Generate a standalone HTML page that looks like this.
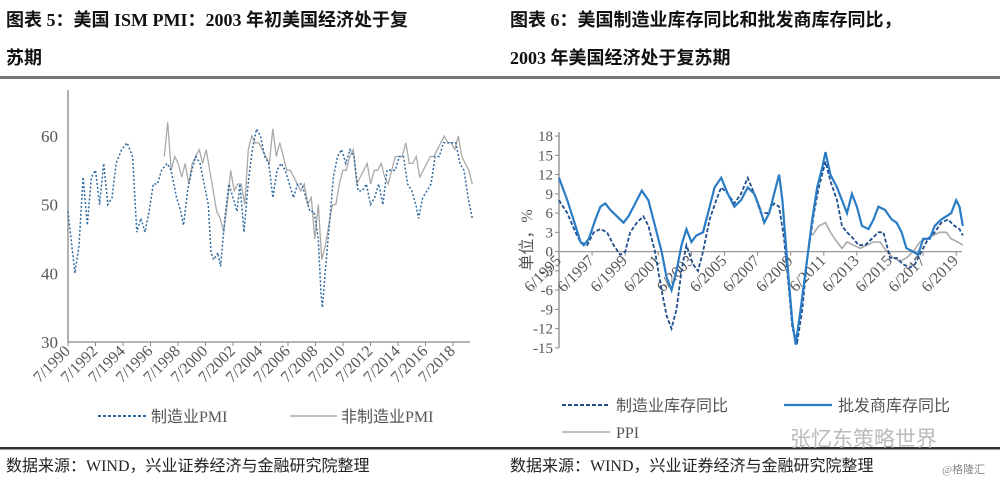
<!DOCTYPE html>
<html><head><meta charset="utf-8"><style>
body{margin:0;background:#fff;width:1000px;height:487px;overflow:hidden;font-family:"Liberation Serif","Noto Serif CJK SC","Noto Sans CJK SC",serif;}
svg text{font-family:"Liberation Serif","Noto Sans CJK SC",serif;}
.t{font-family:"Liberation Serif","Noto Sans CJK SC",sans-serif;font-weight:bold;font-size:18px;fill:#111;}
</style></head><body>
<svg id="s" width="1000" height="487" xmlns="http://www.w3.org/2000/svg">
<text class="t" x="6" y="26">图表 5：美国 ISM PMI：2003 年初美国经济处于复</text>
<text class="t" x="6" y="64">苏期</text>
<text class="t" x="510" y="26">图表 6：美国制造业库存同比和批发商库存同比，</text>
<text class="t" x="510" y="64">2003 年美国经济处于复苏期</text>
<rect x="0" y="76" width="1000" height="3" fill="#777"/>
<rect x="0" y="447" width="1000" height="2.5" fill="#333"/>
<text x="6" y="471" font-size="16" fill="#222">数据来源：WIND，兴业证券经济与金融研究院整理</text>
<text x="510" y="471" font-size="16" fill="#222">数据来源：WIND，兴业证券经济与金融研究院整理</text>
<text x="790" y="446" font-size="21" fill="#bbb">张忆东策略世界</text>
<text x="942" y="473" font-size="11" fill="#888">@格隆汇</text>
<g id="L"></g>
<g id="R"></g>
</svg>
<script>
// Left chart data
const mfgYears=[1990.5,1991.0,1991.3,1991.6,1991.9,1992.2,1992.5,1992.8,1993.1,1993.4,1993.7,1994.0,1994.4,1994.8,1995.2,1995.5,1995.8,1996.1,1996.4,1996.7,1997.0,1997.3,1997.7,1998.0,1998.4,1998.7,1998.9,1999.2,1999.5,1999.8,2000.1,2000.4,2000.7,2000.9,2001.1,2001.4,2001.6,2001.9,2002.2,2002.5,2002.8,2003.0,2003.3,2003.6,2003.9,2004.2,2004.5,2004.8,2005.1,2005.4,2005.7,2006.0,2006.3,2006.6,2006.9,2007.2,2007.5,2007.8,2008.1,2008.4,2008.7,2008.9,2009.0,2009.2,2009.5,2009.8,2010.1,2010.4,2010.7,2011.0,2011.3,2011.6,2011.9,2012.2,2012.5,2012.8,2013.1,2013.4,2013.7,2014.0,2014.3,2014.6,2014.9,2015.2,2015.5,2015.8,2016.0,2016.3,2016.6,2016.9,2017.2,2017.5,2017.8,2018.1,2018.4,2018.7,2019.0,2019.3,2019.6,2019.9];
const mfgPMI=[49,40,44,54,47,54,55,50,56,50,51,56,58,59,57,46,48,46,49,53,53,55,56,55,51,49,47,52,55,57,56,53,50,43,42,43,41,48,53,51,49,53,46,53,58,61,60,57,56,51,55,56,55,53,51,53,53,51,49,49,45,37,35,40,47,54,57,58,56,58,57,52,52,53,50,51,53,50,55,55,55,57,57,53,52,50,48,51,52,53,57,57,59,59,59,59,56,55,51,48];
const nonMfgStart=1997.5, nonMfgEnd=2019.9;
const nonMfgPMI=[57,62,55,57,56,54,56,53,56,57,58,56,58,55,52,49,48,46,50,55,52,53,53,50,58,60,59,59,58,57,56,61,57,59,57,55,55,54,53,52,53,50,51,45,50,42,44,47,50,50,53,55,55,57,58,53,54,55,56,53,55,55,56,54,53,55,57,57,57,59,56,56,57,54,55,56,57,57,58,59,60,59,59,58,60,57,56,55,53];
const leftYTicks=[30,40,50,60];
const leftXTicks=["7/1990","7/1992","7/1994","7/1996","7/1998","7/2000","7/2002","7/2004","7/2006","7/2008","7/2010","7/2012","7/2014","7/2016","7/2018"];
// Right chart data
const whlYears=[1995.5,1996.0,1996.5,1996.8,1997.0,1997.3,1997.7,1998.0,1998.3,1998.6,1999.0,1999.4,1999.7,2000.0,2000.5,2000.9,2001.3,2001.7,2002.0,2002.3,2002.6,2002.9,2003.2,2003.5,2003.8,2004.2,2004.5,2004.9,2005.3,2005.7,2006.1,2006.5,2006.9,2007.3,2007.6,2007.9,2008.2,2008.5,2008.8,2009.0,2009.3,2009.6,2009.8,2010.1,2010.5,2010.8,2011.1,2011.4,2011.6,2011.9,2012.3,2012.6,2012.9,2013.2,2013.5,2013.8,2014.2,2014.5,2014.8,2015.2,2015.6,2015.9,2016.2,2016.5,2016.9,2017.2,2017.5,2017.9,2018.2,2018.6,2018.9,2019.2,2019.5,2019.7,2019.9];
const whlInv=[11.5,8,4,1.5,1,2,5,7,7.5,6.5,5.5,4.5,5.5,7,9.5,8,4,0,-4,-6,-3,1,3.5,1.5,2.5,3,6,10,11.5,9,7,8,10,9,7,4.5,6,9,12,8,-2,-11,-14.5,-9,-1,5,10,13,15.5,12,10,8,6,9,7,4,3.5,5,7,6.5,5,4.5,3,0.5,0,-0.5,2,2,4,5,5.5,6,8,7,4];
const manYears=[1995.5,1996.0,1996.5,1996.8,1997.2,1997.6,1998.0,1998.4,1998.8,1999.2,1999.5,1999.8,2000.2,2000.6,2000.9,2001.3,2001.7,2002.0,2002.3,2002.6,2002.9,2003.2,2003.6,2003.9,2004.2,2004.6,2005.0,2005.3,2005.7,2006.1,2006.5,2006.9,2007.3,2007.7,2008.1,2008.5,2008.8,2009.1,2009.4,2009.6,2009.9,2010.2,2010.5,2010.9,2011.2,2011.6,2011.9,2012.3,2012.6,2012.9,2013.3,2013.6,2014.0,2014.4,2014.8,2015.1,2015.5,2015.9,2016.3,2016.7,2017.0,2017.4,2017.8,2018.2,2018.6,2019.0,2019.4,2019.7,2019.9];
const manInv=[8,6,3,1.5,1,3,3.5,3,1,-0.5,0,3,4.5,5.5,4,0,-6,-10,-12,-9,-3,1,-2,-3,0,5,8,10,9,7.5,9,11.5,9,6,6,7.5,7,2,-6,-12,-14,-9,-1,6,10,14,11,8,4,3,2,1,1,2,3,3,-1,-1,-2,-2.5,-2,0,2,3,4.5,5,4,3.5,2.5];
const ppiYears=[2010.8,2011.2,2011.6,2011.9,2012.3,2012.6,2012.9,2013.3,2013.7,2014.1,2014.5,2014.9,2015.3,2015.7,2016.1,2016.5,2016.9,2017.3,2017.7,2018.1,2018.5,2018.9,2019.2,2019.6,2019.9];
const ppi=[2.5,4,4.5,3,1.5,0.5,1.5,1,0.5,1,1.5,1.5,0,-1,-1.5,-1,0,1.5,2,2.5,3,3,2,1.5,1];
const rightYTicks=[18,15,12,9,6,3,0,-3,-6,-9,-12,-15];
const rightXTicks=["6/1995","6/1997","6/1999","6/2001","6/2003","6/2005","6/2007","6/2009","6/2011","6/2013","6/2015","6/2017","6/2019"];

const NS="http://www.w3.org/2000/svg";
function mk(p,tag,at){const e=document.createElementNS(NS,tag);for(const k in at)e.setAttribute(k,at[k]);p.appendChild(e);return e;}
function pathOf(xs,ys,fx,fy){return xs.map((x,i)=>(i?"L":"M")+fx(x).toFixed(1)+" "+fy(ys[i]).toFixed(1)).join(" ");}

// LEFT
const L=document.getElementById('L');
const lx=y=>68+(y-1990.5)*13.75, ly=v=>342-(v-30)*6.87;
let a=mk(L,'path',{d:"M68 90 L68 342 L470 342",stroke:"#888",fill:"none","stroke-width":"1.3"});

leftYTicks.forEach(v=>{const t=mk(L,'text',{x:58,y:ly(v)+6,"text-anchor":"end","font-size":"17",fill:"#555"});t.textContent=v;
});
leftXTicks.forEach((s,i)=>{const x=lx(1990.5+2*i);mk(L,'line',{x1:x,x2:x,y1:342,y2:346,stroke:"#888"});
const t=mk(L,'text',{x:x+3,y:352,"text-anchor":"end","font-size":"16",fill:"#555",transform:`rotate(-45 ${x+3} 352)`});t.textContent=s;
});
const nmYears=nonMfgPMI.map((_,i)=>nonMfgStart+i*(nonMfgEnd-nonMfgStart)/(nonMfgPMI.length-1));
let p=mk(L,'path',{d:pathOf(nmYears,nonMfgPMI,lx,ly),stroke:"#aaa",fill:"none","stroke-width":"1.3"});

p=mk(L,'path',{d:pathOf(mfgYears,mfgPMI,lx,ly),stroke:"#2e6aa0",fill:"none","stroke-width":"1.5","stroke-dasharray":"2 2"});

let g=mk(L,'g',{});
mk(g,'line',{x1:98,x2:147,y1:416,y2:416,stroke:"#2e6aa0","stroke-width":"2","stroke-dasharray":"3 2"});
mk(g,'text',{x:151,y:422,"font-size":"16",fill:"#555"}).textContent="制造业PMI";
g=mk(L,'g',{});
mk(g,'line',{x1:290,x2:337,y1:416,y2:416,stroke:"#aaa","stroke-width":"1.5"});
mk(g,'text',{x:341,y:422,"font-size":"16",fill:"#555"}).textContent="非制造业PMI";

// RIGHT
const R=document.getElementById('R');
const rx=y=>559+(y-1995.5)*16.55, ry=v=>251.6-v*6.42;
a=mk(R,'path',{d:`M559 132 L559 ${ry(-15)}`,stroke:"#888",fill:"none","stroke-width":"1.3"});

a=mk(R,'line',{x1:559,x2:962,y1:ry(0),y2:ry(0),stroke:"#999","stroke-width":"1.3"});

rightYTicks.forEach(v=>{mk(R,'line',{x1:555,x2:559,y1:ry(v),y2:ry(v),stroke:"#888"});
const t=mk(R,'text',{x:553,y:ry(v)+5,"text-anchor":"end","font-size":"15",fill:"#555"});t.textContent=v;
});
rightXTicks.forEach((s,i)=>{const x=rx(1995.5+2*i);mk(R,'line',{x1:x,x2:x,y1:ry(0),y2:ry(0)+4,stroke:"#888"});
const t=mk(R,'text',{x:x+3,y:ry(0)+10,"text-anchor":"end","font-size":"16",fill:"#555",transform:`rotate(-45 ${x+3} ${ry(0)+10})`});t.textContent=s;
});
let yt=mk(R,'text',{x:532,y:240,"text-anchor":"middle","font-size":"16",fill:"#555",transform:"rotate(-90 532 240)"});yt.textContent="单位，%";

p=mk(R,'path',{d:pathOf(ppiYears,ppi,rx,ry),stroke:"#aaa",fill:"none","stroke-width":"1.6"});

p=mk(R,'path',{d:pathOf(manYears,manInv,rx,ry),stroke:"#1f4e8c",fill:"none","stroke-width":"1.8","stroke-dasharray":"4 2"});

p=mk(R,'path',{d:pathOf(whlYears,whlInv,rx,ry),stroke:"#2a7cc4",fill:"none","stroke-width":"2.2"});

g=mk(R,'g',{});
mk(g,'line',{x1:562,x2:610,y1:405,y2:405,stroke:"#1f4e8c","stroke-width":"2","stroke-dasharray":"4 2"});
mk(g,'text',{x:616,y:411,"font-size":"16",fill:"#555"}).textContent="制造业库存同比";
g=mk(R,'g',{});
mk(g,'line',{x1:784,x2:832,y1:405,y2:405,stroke:"#2a7cc4","stroke-width":"2.2"});
mk(g,'text',{x:838,y:411,"font-size":"16",fill:"#555"}).textContent="批发商库存同比";
g=mk(R,'g',{});
mk(g,'line',{x1:562,x2:610,y1:432,y2:432,stroke:"#aaa","stroke-width":"1.6"});
mk(g,'text',{x:616,y:438,"font-size":"16",fill:"#555"}).textContent="PPI";
</script>
</body></html>
